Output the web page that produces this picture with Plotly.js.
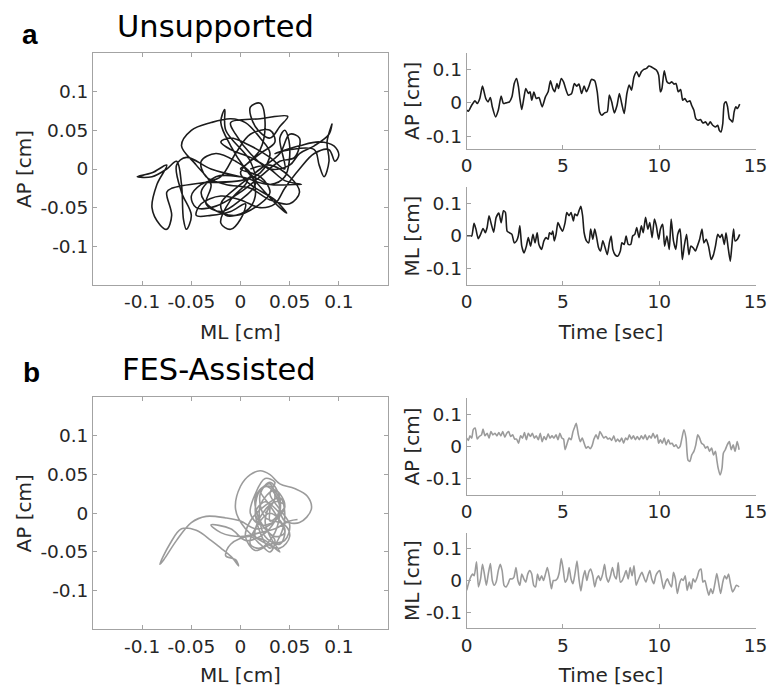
<!DOCTYPE html>
<html><head><meta charset="utf-8">
<script src="https://cdn.plot.ly/plotly-3.0.1.min.js"></script>
<style>html,body{margin:0;padding:0;background:#fff}#chart{width:767px;height:687px}</style>
</head><body><div id="chart"></div>
<script>
// ---------- Panel a (Unsupported): trajectory ML vs AP ----------
const trajA_ML = [0.0,-0.03,-0.055,-0.065,-0.06,-0.05,-0.055,-0.058,-0.06,-0.065,-0.075,-0.09,-0.105,-0.09,-0.075,-0.085,-0.09,-0.082,-0.075,-0.07,-0.075,-0.07,-0.04,0.0,0.02,0.03,0.02,0.005,-0.01,-0.03,-0.05,-0.06,-0.045,-0.03,-0.035,-0.02,0.0,0.015,0.01,-0.015,-0.016,-0.02,-0.01,0.005,0.025,0.04,0.047,0.035,0.01,0.0,0.02,0.025,0.02,0.01,0.015,0.03,0.04,0.048,0.02,-0.01,-0.005,0.01,0.03,0.05,0.06,0.075,0.09,0.093,0.088,0.09,0.085,0.08,0.075,0.05,0.035,0.06,0.08,0.095,0.1,0.096,0.09,0.075,0.06,0.045,0.035,0.02,0.0,-0.02,-0.04,-0.045,-0.03,-0.01,0.005,0.0,-0.01,-0.02,-0.01,0.005,0.01,0.03,0.055,0.062,0.045,0.03,0.01,-0.01,-0.02,-0.01,0.01,0.03,0.045,0.04,0.045,0.05,0.045,0.03,0.0,-0.025,-0.04,-0.03,-0.005,0.02,0.03,0.02,0.0,0.005,
  0.02,0.035,0.03,0.01,-0.005,-0.02,-0.04,-0.05,-0.045,-0.025,0.0,0.02,0.04,0.055,0.06,0.05,0.04,0.02,0.0,-0.02,-0.015,0.005,0.015,0.01,-0.005,-0.025,-0.04,-0.035,-0.015,0.01,0.03,0.05,0.06,0.05,0.03,0.01];
const trajA_AP = [-0.01,0.0,0.015,0.005,-0.03,-0.06,-0.078,-0.065,-0.02,0.01,0.0,-0.01,-0.01,-0.005,0.005,-0.02,-0.05,-0.072,-0.078,-0.06,-0.03,-0.025,-0.018,-0.015,-0.005,0.02,0.04,0.06,0.065,0.06,0.05,0.03,0.005,-0.02,-0.045,-0.055,-0.04,-0.02,0.01,0.05,0.077,0.06,0.03,0.0,-0.03,-0.05,-0.057,-0.04,-0.02,-0.005,0.025,0.06,0.085,0.08,0.055,0.04,0.055,0.068,0.065,0.06,0.045,0.02,0.0,0.005,0.02,0.03,0.045,0.058,0.035,0.01,-0.01,0.005,0.025,0.025,0.02,0.03,0.035,0.03,0.018,0.01,0.025,0.02,0.0,-0.025,-0.045,-0.05,-0.04,-0.035,-0.045,-0.06,-0.06,-0.055,-0.045,-0.065,-0.078,-0.07,-0.04,-0.02,-0.01,-0.02,-0.02,-0.02,-0.015,0.0,0.015,0.025,0.035,0.04,0.03,0.015,0.0,0.04,0.05,0.03,-0.01,-0.02,-0.01,-0.01,-0.03,-0.05,-0.06,-0.045,-0.03,-0.01,0.0,0.005,
  0.02,0.035,0.05,0.045,0.02,-0.01,-0.02,-0.035,-0.05,-0.048,-0.03,-0.01,0.01,0.015,0.04,0.045,0.02,0.0,-0.02,-0.045,-0.06,-0.055,-0.035,-0.005,0.01,0.02,0.01,-0.01,-0.02,-0.025,-0.04,-0.045,-0.03,-0.01,0.005,0.0];

// Panel a: AP vs time
const timeA_AP = [0,0.09,0.26,0.43,0.55,0.68,0.82,0.99,1.11,1.23,1.33,1.5,1.64,1.79,1.91,2.05,2.22,2.35,2.47,2.59,2.69,2.76,2.86,2.98,3.07,3.2,3.29,3.38,3.49,3.61,3.75,3.92,4.09,4.23,4.35,4.47,4.57,4.69,4.77,4.91,5.03,5.11,5.28,5.45,5.59,5.71,5.83,5.97,6.1,6.22,6.34,6.48,6.65,6.78,6.9,7.02,7.16,7.3,7.41,7.53,7.67,7.81,7.93,8.05,8.18,8.32,8.44,8.56,8.69,8.83,8.95,9.07,9.2,9.34,9.46,9.58,9.72,9.85,9.97,10.06,10.14,10.26,10.4,10.53,10.65,10.77,10.87,10.99,11.11,11.22,11.33,11.45,11.59,11.68,11.8,11.9,12.02,12.14,12.27,12.41,12.53,12.65,12.78,12.92,13.04,13.12,13.21,13.3,13.38,13.47,13.55,13.64,13.72,13.81,13.89,13.98,14.06,14.18];
const valA_AP = [-0.022,-0.025,-0.007,0.006,-0.002,0.013,0.05,0.013,0.003,0.016,-0.012,-0.042,-0.022,0.02,-0.002,0,0.003,0.018,0.058,0.073,0.048,0.013,-0.02,0.018,0.043,0.028,0.033,0.008,0.032,0.013,0.016,-0.012,0.018,0.033,0.066,0.043,0.033,0.058,0.043,0.073,0.063,0.048,0.023,0.028,0.058,0.05,0.056,0.028,0.05,0.033,0.048,0.07,0.066,0.033,-0.027,-0.037,-0.03,-0.027,0.023,0.003,-0.03,-0.007,0.028,-0.002,-0.032,0.028,0.053,0.038,0.078,0.093,0.078,0.093,0.1,0.103,0.11,0.108,0.103,0.098,0.083,0.033,0.043,0.096,0.063,0.058,0.063,0.056,0.058,0.033,0.04,0.008,0.013,0.003,0.006,-0.007,-0.022,-0.047,-0.052,-0.05,-0.06,-0.057,-0.067,-0.057,-0.067,-0.072,-0.067,-0.082,-0.087,-0.062,-0.002,0.003,-0.012,-0.047,-0.052,-0.057,-0.027,-0.012,-0.017,-0.004];

// Panel a: ML vs time
const timeA_ML = [0,0.17,0.26,0.38,0.48,0.6,0.72,0.85,0.97,1.06,1.16,1.28,1.4,1.53,1.67,1.79,1.91,2.01,2.1,2.22,2.35,2.47,2.59,2.68,2.76,2.86,2.98,3.1,3.2,3.32,3.44,3.55,3.66,3.75,3.89,4.01,4.12,4.23,4.3,4.4,4.47,4.55,4.64,4.74,4.86,4.98,5.11,5.2,5.32,5.42,5.54,5.62,5.74,5.83,5.93,6.02,6.1,6.22,6.34,6.44,6.55,6.65,6.75,6.85,6.95,7.07,7.19,7.3,7.41,7.5,7.59,7.7,7.84,7.98,8.06,8.18,8.28,8.39,8.52,8.62,8.73,8.83,8.95,9.07,9.17,9.29,9.41,9.51,9.63,9.75,9.85,9.97,10.06,10.18,10.28,10.4,10.52,10.62,10.74,10.86,10.96,11.08,11.2,11.3,11.42,11.54,11.64,11.76,11.88,11.98,12.1,12.22,12.32,12.44,12.56,12.7,12.82,12.92,13.04,13.16,13.26,13.38,13.47,13.58,13.69,13.77,13.86,13.94,14.06,14.18];
const valA_ML = [0,0,0,0.039,0.021,-0.008,0.005,0.023,0.01,0.026,0.062,0.036,0.012,0.057,0.07,0.041,0.077,0.072,0.015,0.01,0.005,-0.021,-0.015,0,0.031,-0.031,-0.052,-0.031,-0.005,-0.031,0.005,-0.021,0.01,-0.026,-0.041,-0.015,-0.005,-0.01,0.01,0.005,0.015,-0.015,0.005,0.041,0.026,0.015,0.041,0.072,0.062,0.072,0.046,0.067,0.062,0.077,0.091,0.062,0.01,-0.015,-0.021,0.021,-0.01,0.021,-0.005,-0.036,-0.046,-0.015,-0.036,-0.057,-0.021,0,-0.041,-0.057,-0.062,-0.046,-0.021,-0.026,0,-0.026,-0.026,0,0.005,0.026,-0.005,0.031,0.01,0.057,0.021,0.041,-0.005,0.052,0.031,-0.01,0.021,0.036,-0.031,0,-0.041,0.052,-0.015,-0.041,0.005,0.021,-0.072,-0.031,0.005,-0.057,-0.031,-0.036,-0.046,-0.031,-0.01,0.021,-0.021,-0.01,-0.031,-0.072,-0.057,-0.031,0.005,-0.005,0.005,-0.026,0.01,-0.036,-0.077,-0.031,0.021,-0.015,-0.01,0.005];

// ---------- Panel b (FES-Assisted) ----------
const trajB_ML = [0.025,0.035,0.03,0.02,0.015,0.02,0.03,0.04,0.045,0.04,0.025,0.01,0.005,0.015,0.03,0.045,0.05,0.04,0.03,0.035,0.025,0.015,0.01,0.02,0.035,0.045,0.035,0.02,0.015,0.025,0.04,0.03,0.025,0.03,
  0.03,0.045,0.035,0.02,0.025,0.04,0.045,0.03,0.015,0.01,0.02,0.035,0.04,0.03,0.02,0.025,0.045,0.05,0.04,0.02,0.005,-0.005,0.0,0.01,0.02,0.03,0.04,0.055,0.068,0.072,0.06,0.045,0.04,0.025,0.015,0.025,0.035,0.03,0.02,0.01,-0.01,-0.015,-0.005,-0.002,-0.008,-0.02,-0.03,-0.045,-0.06,-0.072,-0.082,-0.078,-0.065,-0.05,-0.035,-0.015,0.0,0.015,0.03,0.04,0.035,0.025,0.015,0.02,0.035,0.045,0.04,0.03,0.02,0.03,0.04,0.035,0.02,0.005,-0.01,-0.03,-0.02,0.0,0.02,0.035,0.05,0.058];
const trajB_AP = [0.0,0.02,0.038,0.03,0.005,-0.025,-0.045,-0.03,0.0,0.02,0.01,-0.01,-0.03,-0.048,-0.04,-0.035,-0.015,0.005,0.025,0.04,0.045,0.025,0.0,-0.015,-0.01,0.01,0.015,-0.005,-0.03,-0.035,-0.05,-0.03,-0.01,0.01,
  -0.01,0.01,0.03,0.01,-0.03,-0.04,-0.02,0.0,-0.02,-0.04,-0.045,-0.025,0.02,0.04,0.025,-0.005,-0.015,-0.03,-0.045,-0.035,-0.02,0.005,0.035,0.05,0.055,0.05,0.038,0.032,0.022,0.005,-0.012,-0.01,0.0,0.015,0.0,-0.02,-0.035,-0.05,-0.04,-0.03,-0.04,-0.055,-0.06,-0.068,-0.058,-0.045,-0.035,-0.022,-0.02,-0.04,-0.066,-0.06,-0.035,-0.012,-0.004,-0.006,-0.01,-0.02,-0.015,0.0,0.025,0.035,0.02,-0.01,-0.03,-0.025,-0.01,0.01,0.03,0.035,0.015,-0.01,-0.03,-0.035,-0.02,-0.015,-0.025,-0.03,-0.025,-0.02,-0.01,-0.008];

const timeB_AP = [0,0.09,0.17,0.26,0.34,0.44,0.55,0.65,0.77,0.85,0.95,1.06,1.16,1.26,1.36,1.47,1.57,1.67,1.77,1.87,1.98,2.08,2.18,2.28,2.39,2.49,2.59,2.69,2.8,2.9,3,3.1,3.2,3.31,3.41,3.51,3.61,3.72,3.82,3.92,4.02,4.12,4.23,4.33,4.43,4.53,4.64,4.74,4.84,4.94,5.03,5.11,5.22,5.32,5.42,5.52,5.62,5.69,5.8,5.9,6,6.1,6.2,6.31,6.41,6.51,6.61,6.72,6.82,6.92,7.02,7.12,7.23,7.33,7.43,7.53,7.64,7.74,7.84,7.94,8.05,8.15,8.25,8.35,8.45,8.56,8.66,8.76,8.86,8.97,9.07,9.17,9.27,9.37,9.48,9.58,9.68,9.78,9.89,9.97,10.06,10.16,10.26,10.36,10.47,10.57,10.67,10.77,10.87,10.98,11.08,11.18,11.28,11.39,11.49,11.59,11.69,11.8,11.9,12,12.1,12.2,12.31,12.41,12.51,12.61,12.72,12.82,12.92,12.99,13.06,13.16,13.26,13.33,13.43,13.53,13.64,13.74,13.84,13.94,14.05,14.15];
const valB_AP = [0.026,0.019,0.033,0.026,0.052,0.057,0.023,0.031,0.036,0.054,0.033,0.041,0.026,0.046,0.036,0.041,0.033,0.043,0.033,0.046,0.029,0.041,0.046,0.031,0.036,0.023,0.023,0.01,0.033,0.026,0.043,0.021,0.041,0.031,0.041,0.026,0.033,0.021,0.041,0.015,0.031,0.021,0.039,0.026,0.033,0.026,0.036,0.021,0.041,0.026,0.023,-0.01,0.01,0.026,0.021,0.046,0.062,0.072,0.036,0.015,0.026,0.01,-0.005,0,-0.007,0.002,0.023,0.036,0.023,0.046,0.036,0.026,0.031,0.023,0.026,0.019,0.033,0.015,0.023,0.015,0.026,0.01,0.026,0.021,0.036,0.023,0.033,0.021,0.031,0.021,0.033,0.023,0.036,0.021,0.033,0.026,0.041,0.026,0.036,0.01,0.021,0.01,0.026,0.005,0.021,0.008,0.01,0,0.005,-0.005,0,0.026,0.052,0.026,-0.041,-0.046,-0.026,-0.015,0.005,0.036,0.026,0.01,0.005,-0.005,0,-0.015,-0.005,-0.026,-0.015,-0.041,-0.067,-0.088,-0.067,-0.021,-0.01,0.005,0.015,-0.01,0.005,-0.015,0.015,-0.01];

const timeB_ML = [0,0.09,0.2,0.31,0.39,0.51,0.61,0.72,0.82,0.92,1.02,1.12,1.23,1.33,1.43,1.53,1.64,1.74,1.84,1.94,2.05,2.15,2.25,2.35,2.45,2.56,2.66,2.76,2.86,2.97,3.07,3.17,3.27,3.37,3.48,3.58,3.68,3.78,3.89,3.99,4.09,4.19,4.3,4.4,4.5,4.6,4.7,4.81,4.91,5.01,5.11,5.22,5.32,5.42,5.52,5.62,5.73,5.83,5.93,6.03,6.14,6.24,6.34,6.44,6.55,6.65,6.75,6.85,6.95,7.06,7.16,7.26,7.36,7.47,7.57,7.67,7.77,7.87,7.98,8.08,8.18,8.28,8.39,8.49,8.59,8.69,8.8,8.9,9,9.1,9.2,9.31,9.41,9.51,9.61,9.72,9.82,9.92,10.02,10.12,10.23,10.33,10.43,10.53,10.64,10.74,10.84,10.94,11.05,11.15,11.25,11.35,11.45,11.56,11.66,11.76,11.86,11.97,12.07,12.17,12.27,12.37,12.48,12.58,12.68,12.78,12.89,12.99,13.09,13.19,13.3,13.4,13.5,13.6,13.7,13.81,13.91,14.01,14.15];
const valB_ML = [-0.031,-0.01,0.01,0.02,0.015,0.059,-0.02,0.005,0.051,0.02,-0.015,0.02,0.053,0,-0.015,-0.005,0.031,0.051,0.031,-0.015,-0.02,-0.01,0.005,0.005,0.01,0.041,0,-0.015,0.02,0.005,-0.005,0.02,0.031,0.022,-0.015,-0.02,0.02,0,0.015,0,0.02,0.041,0.01,-0.026,0,0,0.005,0.026,0.069,0.036,-0.005,0.005,0.041,0.005,-0.01,0.02,0.061,0.005,-0.033,0.005,0.031,0,0.026,0.036,0.015,-0.02,0.005,0.015,0,0.02,0.051,0.01,-0.005,0.015,0.041,0.015,0.005,0.056,-0.005,0,0.015,0.031,0.005,0.041,0.015,0.046,-0.015,0,0.015,0.026,0.01,-0.005,0.015,0.031,0.005,-0.01,0.015,0.026,0.031,0.005,-0.026,-0.005,0.005,-0.01,-0.02,0.026,0.005,-0.041,-0.01,0.005,0,0.015,-0.031,-0.005,-0.026,0.005,-0.005,0.01,0.031,0.036,-0.005,0,-0.026,-0.046,-0.026,-0.041,-0.01,0.022,-0.01,-0.041,-0.005,0.015,0.005,0.02,-0.01,-0.036,-0.026,-0.015,-0.02];

// ---------- tick labels ----------
const boxTickVals = [-0.1,-0.05,0,0.05,0.1];
const boxTickText = ['-0.1','-0.05','0','0.05','0.1'];
const tsYTickVals = [-0.1,0,0.1];
const tsYTickText = ['-0.1','0','0.1'];
const tsXTickVals = [0,5,10,15];
const tsXTickText = ['0','5','10','15'];

const W = 767, H = 687;
const FONT = 'DejaVu Sans, Verdana, sans-serif';
const AX = '#a3a3a3';
const TXT = '#262626';
const BLACK = '#1c1c1c';
const GRAY = '#9b9b9b';

function px(a, b) { return [a / W, b / W]; }
function py(top, bottom) { return [1 - bottom / H, 1 - top / H]; }

function baseAxis(extra) {
  return Object.assign({
    showgrid: false, zeroline: false, showline: true, linecolor: AX, linewidth: 1,
    ticks: 'inside', ticklen: 4, tickcolor: AX, tickwidth: 1,
    tickfont: { family: FONT, size: 18.5, color: TXT },
    tickmode: 'array', fixedrange: true, ticklabeloverflow: 'allow'
  }, extra);
}
function axTitle(text, standoff) {
  return { text: text, font: { family: FONT, size: 20, color: TXT }, standoff: standoff };
}

const traces = [
  { x: trajA_ML, y: trajA_AP, xaxis: 'x', yaxis: 'y', mode: 'lines', line: { color: BLACK, width: 1.6, shape: 'spline', smoothing: 1 } },
  { x: timeA_AP, y: valA_AP, xaxis: 'x2', yaxis: 'y2', mode: 'lines', line: { color: BLACK, width: 1.6, shape: 'spline', smoothing: 0.6 } },
  { x: timeA_ML, y: valA_ML, xaxis: 'x3', yaxis: 'y3', mode: 'lines', line: { color: BLACK, width: 1.6, shape: 'spline', smoothing: 0.6 } },
  { x: trajB_ML, y: trajB_AP, xaxis: 'x4', yaxis: 'y4', mode: 'lines', line: { color: GRAY, width: 1.6, shape: 'spline', smoothing: 1 } },
  { x: timeB_AP, y: valB_AP, xaxis: 'x5', yaxis: 'y5', mode: 'lines', line: { color: GRAY, width: 1.6, shape: 'spline', smoothing: 0.6 } },
  { x: timeB_ML, y: valB_ML, xaxis: 'x6', yaxis: 'y6', mode: 'lines', line: { color: GRAY, width: 1.6, shape: 'spline', smoothing: 0.6 } }
];

const boxX = (anchor, dom) => baseAxis({ domain: dom, anchor: anchor, range: [-0.15, 0.15], tickvals: boxTickVals, ticktext: boxTickText, mirror: 'ticks', title: axTitle('ML [cm]', 13) });
const boxY = (anchor, dom) => baseAxis({ domain: dom, anchor: anchor, range: [-0.15, 0.15], tickvals: boxTickVals, ticktext: boxTickText, mirror: 'ticks', title: axTitle('AP [cm]', 3) });
const tsX = (anchor, dom, title) => baseAxis({ domain: dom, anchor: anchor, range: [0, 15], tickvals: tsXTickVals, ticktext: tsXTickText, title: title ? axTitle(title, 13) : undefined });
const tsY = (anchor, dom, title, range) => baseAxis({ domain: dom, anchor: anchor, range: range, tickvals: tsYTickVals, ticktext: tsYTickText, title: axTitle(title, 0) });

const TSX = px(466.7, 755.5);
const layout = {
  width: W, height: H, margin: { l: 0, r: 0, t: 0, b: 0 },
  paper_bgcolor: '#fff', plot_bgcolor: '#fff', showlegend: false,
  font: { family: FONT, color: TXT },
  xaxis: boxX('y', px(93, 388)),
  yaxis: boxY('x', py(53, 285)),
  xaxis2: tsX('y2', TSX, null),
  yaxis2: tsY('x2', py(52.7, 149), 'AP [cm]', [-0.138, 0.15]),
  xaxis3: tsX('y3', TSX, 'Time [sec]'),
  yaxis3: tsY('x3', py(187, 285), 'ML [cm]', [-0.15, 0.15]),
  xaxis4: boxX('y4', px(93, 388)),
  yaxis4: boxY('x4', py(397.3, 629.3)),
  xaxis5: tsX('y5', TSX, null),
  yaxis5: tsY('x5', py(398, 495), 'AP [cm]', [-0.15, 0.15]),
  xaxis6: tsX('y6', TSX, 'Time [sec]'),
  yaxis6: tsY('x6', py(532.7, 628.3), 'ML [cm]', [-0.15, 0.15]),
  annotations: [
    { text: '<b>a</b>', x: 30 / W, y: 1 - 34 / H, xref: 'paper', yref: 'paper', showarrow: false, xanchor: 'center', yanchor: 'middle', font: { family: 'Liberation Sans, Arial, sans-serif', size: 28, color: '#000' } },
    { text: 'Unsupported', x: 215 / W, y: 1 - 27 / H, xref: 'paper', yref: 'paper', showarrow: false, xanchor: 'center', yanchor: 'middle', font: { family: FONT, size: 30.5, color: '#000' } },
    { text: '<b>b</b>', x: 31 / W, y: 1 - 372 / H, xref: 'paper', yref: 'paper', showarrow: false, xanchor: 'center', yanchor: 'middle', font: { family: 'Liberation Sans, Arial, sans-serif', size: 28, color: '#000' } },
    { text: 'FES-Assisted', x: 219 / W, y: 1 - 369 / H, xref: 'paper', yref: 'paper', showarrow: false, xanchor: 'center', yanchor: 'middle', font: { family: FONT, size: 30.5, color: '#000' } }
  ]
};

Plotly.newPlot('chart', traces, layout, { staticPlot: true, displayModeBar: false });
</script>
</body></html>
